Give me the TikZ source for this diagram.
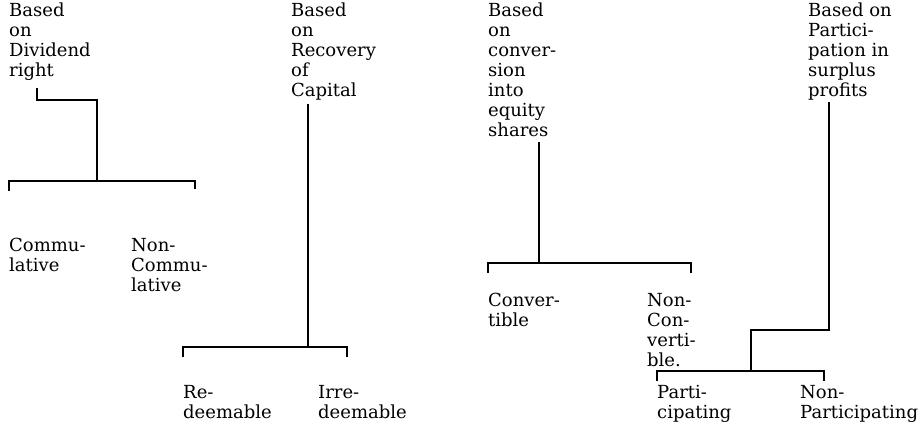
\documentclass[tikz,border=0pt]{standalone}
\usepackage{fontspec}
\setmainfont{DejaVu Serif}
\begin{document}
\begin{tikzpicture}[x=1pt,y=-1pt,
  lbl/.style={align=left,inner sep=0pt,anchor=north west,font=\fontsize{18}{20}\selectfont},
  conn/.style={line width=2.4pt,line join=miter}]
\useasboundingbox[fill=white] (0,0) rectangle (923,434);
% group 1
\node[lbl] (g1) at (9,3) {Based\\on\\Dividend\\right};
\node[lbl] (c1) at (9,238) {Commu-\\lative};
\node[lbl] (n1) at (131,238) {Non-\\Commu-\\lative};
\coordinate (g1a) at (37,88);
\coordinate (g1j) at (97,181);
\coordinate (b1l) at (9,191);
\coordinate (b1r) at (195,189);
\draw[conn] (g1a) |- (g1j |- 0,100) -- (g1j);
\draw[conn] (b1l) |- (g1j) -| (b1r);
% group 2
\node[lbl] (g2) at (291,3) {Based\\on\\Recovery\\of\\Capital};
\node[lbl] (r2) at (183,385) {Re-\\deemable};
\node[lbl] (i2) at (318,385) {Irre-\\deemable};
\coordinate (g2a) at (308,104);
\coordinate (g2j) at (308,347);
\coordinate (b2l) at (183,357);
\coordinate (b2r) at (347,357);
\draw[conn] (g2a) -- (g2j);
\draw[conn] (b2l) |- (g2j) -| (b2r);
% group 3
\node[lbl] (g3) at (488,3) {Based\\on\\conver-\\sion\\into\\equity\\shares};
\node[lbl] (c3) at (488,293) {Conver-\\tible};
\node[lbl] (n3) at (647,293) {Non-\\Con-\\verti-\\ble.};
\coordinate (g3a) at (539,142);
\coordinate (g3j) at (539,263);
\coordinate (b3l) at (488,273);
\coordinate (b3r) at (691,273);
\draw[conn] (g3a) -- (g3j);
\draw[conn] (b3l) |- (g3j) -| (b3r);
% group 4
\node[lbl] (g4) at (808,3) {Based on\\Partici-\\pation in\\surplus\\profits};
\node[lbl] (p4) at (657,385) {Parti-\\cipating};
\node[lbl] (n4) at (800,385) {Non-\\Participating};
\coordinate (g4a) at (829,102);
\coordinate (g4k) at (829,330);
\coordinate (g4j) at (751,371);
\coordinate (b4l) at (657,381);
\coordinate (b4r) at (824,381);
\draw[conn] (g4a) -- (g4k) -| (g4j);
\draw[conn] (b4l) |- (g4j) -| (b4r);
\end{tikzpicture}
\end{document}
